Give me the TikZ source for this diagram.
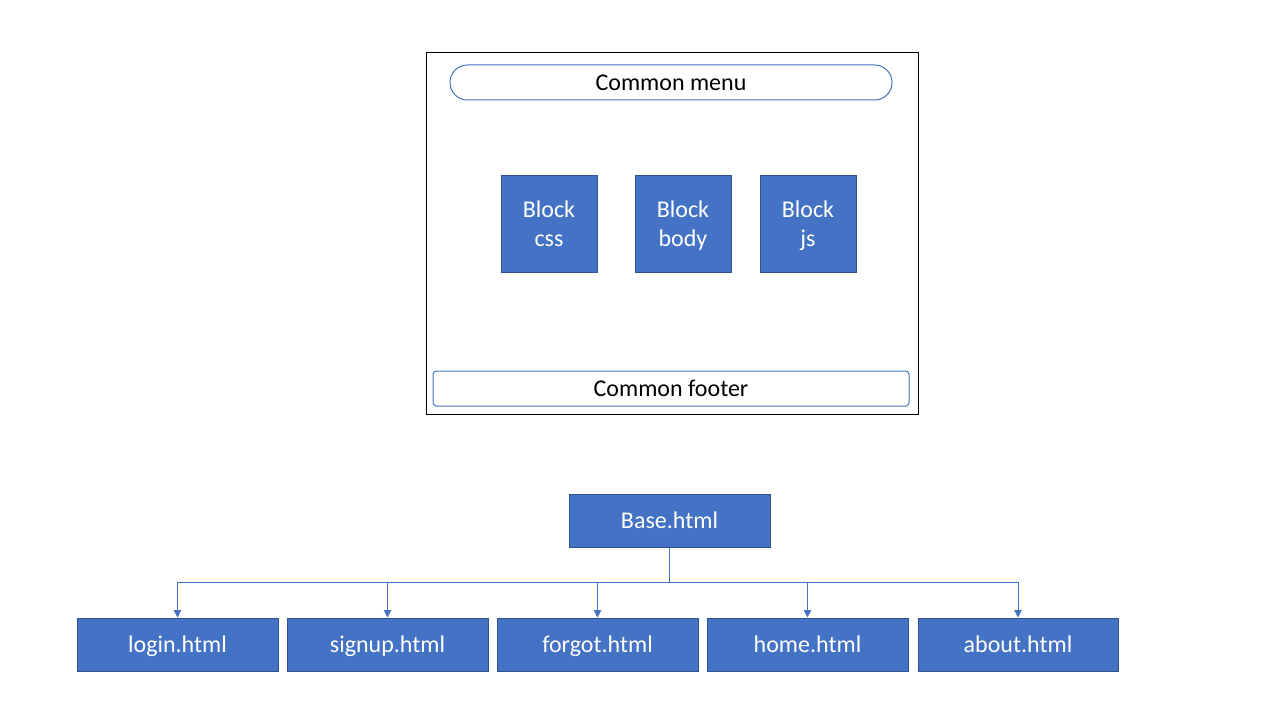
\documentclass[tikz,border=0pt]{standalone}
\usepackage{fontspec}
\setmainfont{Carlito}
\usetikzlibrary{arrows.meta}
\definecolor{accent}{HTML}{4472C4}
\definecolor{accentdark}{HTML}{2F528F}
\newcommand\mystrut{\rule[-5pt]{0pt}{21.6pt}}
\begin{document}
\begin{tikzpicture}[x=0.75pt,y=-0.75pt,
  font=\fontsize{18}{21.6}\selectfont,
  blue box/.style={draw=accentdark,fill=accent,text=white,line width=0.75pt,inner sep=0pt,align=center},
  page/.style={draw=black,line width=0.75pt,inner sep=0pt},
  pill/.style={draw=accent,fill=white,line width=0.75pt,inner sep=0pt,text=black},
  link/.style={draw=accent,line width=0.75pt},
  arr/.style={link,-{Triangle[length=5.5pt,width=5.5pt]}}]
\useasboundingbox (0,0) rectangle (1280,720);
% page frame
\node[page,minimum width=492*0.75pt,minimum height=361*0.75pt] (frame) at (672,233.5) {};
\node[pill,rounded corners=13pt,minimum width=442*0.75pt,minimum height=35*0.75pt] (menu) at (671,82.5) {\mystrut Common menu};
\node[pill,rounded corners=2.5pt,minimum width=476*0.75pt,minimum height=35*0.75pt] (footer) at (671,388.5) {\mystrut Common footer};
\node[blue box,minimum width=96*0.75pt,minimum height=96*0.75pt] (css) at (549,224) {\mystrut Block\\\mystrut css};
\node[blue box,minimum width=96*0.75pt,minimum height=96*0.75pt] (body) at (683,224) {\mystrut Block\\\mystrut body};
\node[blue box,minimum width=96*0.75pt,minimum height=96*0.75pt] (js) at (808,224) {\mystrut Block\\\mystrut js};
% tree
\node[blue box,minimum width=201*0.75pt,minimum height=53*0.75pt] (base) at (669.5,520.5) {\mystrut Base.html};
\node[blue box,minimum width=201*0.75pt,minimum height=53*0.75pt] (login) at (177.5,644.5) {\mystrut login.html};
\node[blue box,minimum width=201*0.75pt,minimum height=53*0.75pt] (signup) at (387.5,644.5) {\mystrut signup.html};
\node[blue box,minimum width=201*0.75pt,minimum height=53*0.75pt] (forgot) at (597.5,644.5) {\mystrut forgot.html};
\node[blue box,minimum width=201*0.75pt,minimum height=53*0.75pt] (home) at (807.5,644.5) {\mystrut home.html};
\node[blue box,minimum width=200*0.75pt,minimum height=53*0.75pt] (about) at (1018,644.5) {\mystrut about.html};
\coordinate (bus) at (669.5,582);
\draw[link] (base.south) -- (bus);
\foreach \c in {login,signup,forgot,home,about}{
  \draw[arr] (bus) -| (\c.north);
}
\end{tikzpicture}
\end{document}
